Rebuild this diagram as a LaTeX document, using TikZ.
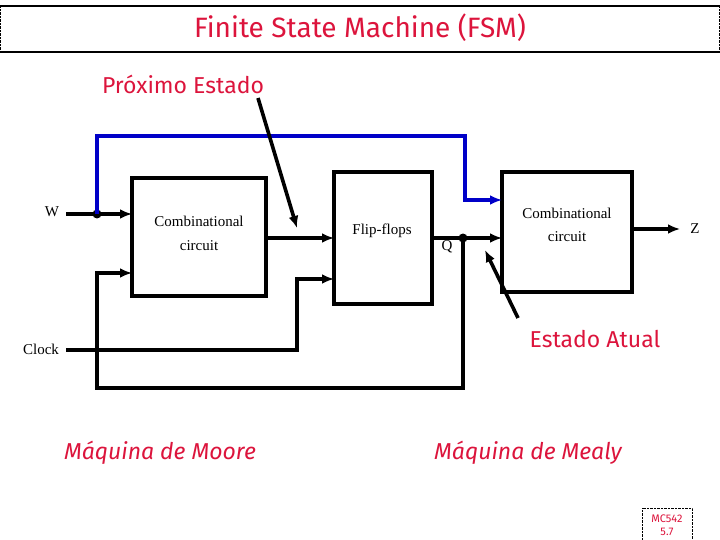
\documentclass[tikz,border=0pt]{standalone}
\usepackage{fontspec}
\setmainfont{Liberation Serif}
\newfontfamily\comic{Fira Sans}
\usetikzlibrary{arrows.meta}
\definecolor{tred}{RGB}{220,20,60}
\definecolor{wblue}{RGB}{0,0,200}
\begin{document}
\begin{tikzpicture}[x=1pt,y=-1pt,
  wire/.style={line width=3.6pt},
  arr/.style={wire,-{Latex[length=12pt,width=10pt]}},
  lbl/.style={font=\fontsize{15}{18}\selectfont},
  red/.style={text=tred,font=\comic\fontsize{23}{27}\selectfont},
  dot/.style={circle,fill,inner sep=0pt,minimum size=9pt}]
\useasboundingbox (0,0) rectangle (720,540);
\draw[line width=2pt] (0,6) -- (720,6) (0,52) -- (720,52);
\draw[densely dotted] (0.5,6) -- (0.5,52) (719.5,6) -- (719.5,52);
\node[red,font=\comic\fontsize{28}{32}\selectfont] (title) at (360,28) {Finite State Machine (FSM)};
\node[red] (pe) at (183,84) {Próximo Estado};
\node[red] (ea) at (595,339) {Estado Atual};
\node[red] (moore) at (160,453) {\itshape Máquina de Moore};
\node[red] (mealy) at (528,453) {\itshape Máquina de Mealy};
\node[draw,densely dotted,text=tred,font=\comic\fontsize{11}{13}\selectfont,align=center,minimum width=50pt,minimum height=34pt] (mc) at (667,525) {MC542\\5.7};
% boxes
\draw[wire] (132,178) rectangle (266,296);
\draw[wire] (334,172) rectangle (432,304);
\draw[wire] (502,172) rectangle (632,292);
\node[lbl] (c1a) at (199,221) {Combinational};
\node[lbl] (c1b) at (199,246) {circuit};
\node[lbl] (ff) at (382,231) {Flip-flops};
\node[lbl] (c2a) at (567,213) {Combinational};
\node[lbl] (c2b) at (567,237) {circuit};
\node[lbl] (w) at (52,212) {W};
\node[lbl] (clk) at (41,349) {Clock};
\node[lbl] (q) at (447,247) {Q};
\node[lbl] (z) at (695,229) {Z};
\coordinate (wd) at (97,214);
\coordinate (qd) at (463,238);
\node[dot] (d1) at (wd) {};
\node[dot] (d2) at (qd) {};
% wires
\draw[arr] (66,214) -- (132,214);
\draw[arr,wblue] (wd) -- (97,136) -- (465,136) -- (465,200) -- (502,200);
\draw[arr] (266,238) -- (334,238);
\draw[arr] (66,350) -- (297,350) -- (297,279) -- (334,279);
\draw[arr] (432,238) -- (502,238);
\draw[arr] (qd) -- (463,388) -- (97,388) -- (97,273) -- (132,273);
\draw[arr] (632,229) -- (680,229);
\draw[arr] (258,98) -- (297,228);
\draw[arr] (518,318) -- (485,250);
\end{tikzpicture}
\end{document}
